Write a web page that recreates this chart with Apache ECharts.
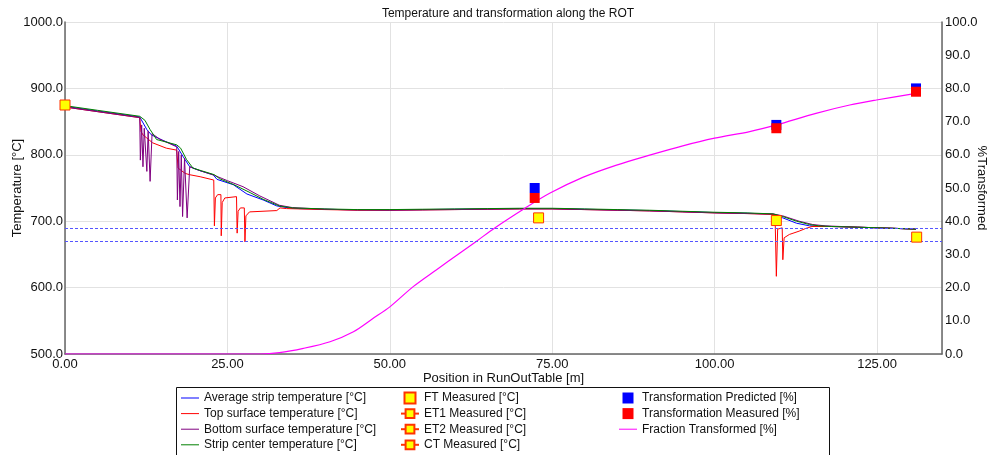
<!DOCTYPE html>
<html>
<head>
<meta charset="utf-8">
<script src="https://cdn.jsdelivr.net/npm/echarts@6/dist/echarts.min.js"></script>
<style>
  html, body { margin: 0; padding: 0; background: #fff; }
  #chart { width: 990px; height: 455px; }
</style>
</head>
<body>
<div id="chart"></div>
<script>
// temperatures along the run out table, [position m, temperature °C]
const avgTemp = [
  [0, 873], [5, 866], [11.5, 857], [12.6, 838], [13.3, 830], [15, 822], [17.2, 813],
  [18.2, 797], [19.2, 782], [20.8, 776], [22.8, 770], [23.4, 763], [25.9, 755], [28, 741],
  [30.5, 732], [32.6, 723], [34.5, 720], [36, 719], [40, 718], [45, 717], [50, 717],
  [55, 717.5], [60, 718], [65, 718.5], [70, 719], [75, 719], [80, 718], [85, 717],
  [90, 716], [95, 714.5], [100, 713], [105, 712], [109, 710.5], [110.5, 705],
  [112.6, 697], [114.6, 693], [118, 692], [122, 691], [127, 689.5], [131, 688]
];
const topTemp = [
  [0, 872], [5, 865], [11.5, 856], [11.7, 835], [12, 830], [12.5, 826], [13.5, 818],
  [15.6, 810], [17.2, 807], [17.4, 780], [18.5, 772], [19.2, 770], [20.8, 767], [22.9, 762],
  [23, 693], [23.15, 735], [23.5, 740], [24, 740], [24.05, 678], [24.2, 728], [24.6, 735],
  [26.4, 737], [26.5, 682], [26.65, 715], [27, 720], [27.6, 720], [27.7, 669], [27.85, 708],
  [28.4, 714], [32.6, 716], [33.1, 720], [34.1, 719], [36, 718.5], [40, 717.5], [45, 716.5],
  [50, 716.5], [55, 717], [60, 717.5], [65, 718], [70, 718.5], [75, 718.5], [80, 717.5],
  [85, 716.5], [90, 715.5], [95, 714], [100, 712.5], [105, 711.5], [109.3, 710],
  [109.5, 617], [109.7, 688], [110, 690], [110.4, 690], [110.5, 642], [110.7, 675],
  [111.5, 680], [113, 685], [114, 689], [115, 692], [118, 692], [122, 691], [127, 689.5], [131, 688]
];
const bottomTemp = [
  [0, 872], [5, 865], [11.5, 856], [11.6, 792], [11.8, 845], [12, 782], [12.2, 840],
  [12.6, 775], [12.8, 836], [13.1, 760], [13.4, 832], [14.5, 824], [17.2, 812], [17.3, 732],
  [17.5, 805], [17.7, 722], [17.9, 800], [18.1, 707], [18.4, 795], [18.8, 705], [19.2, 782],
  [20.5, 777], [23, 769], [25, 761], [27.4, 752], [30, 738], [33, 724], [35, 720.5],
  [40, 718], [45, 717], [50, 716.5], [55, 717], [60, 717.5], [65, 718], [70, 718.5],
  [75, 718.5], [80, 717.5], [85, 716.5], [90, 715.5], [95, 714], [100, 712.5], [105, 711.5],
  [109, 711], [110.5, 708], [113, 700], [115.1, 695], [117, 693], [122, 691], [127, 689.5], [131, 688]
];
const centerTemp = [
  [0, 874], [5, 867], [11.5, 858], [12.3, 852], [13.1, 838], [14.1, 823], [17.2, 815],
  [17.8, 810], [18.7, 793], [19.7, 780], [21, 776], [23, 770], [23.8, 764], [26, 755],
  [28.5, 743], [30.5, 733], [33, 723], [35, 720], [40, 718.5], [45, 717.5], [50, 717.5],
  [55, 718], [60, 718.5], [65, 719], [70, 719.5], [75, 719.5], [80, 718.5], [85, 717.5],
  [90, 716.5], [95, 715], [100, 713.5], [105, 712.5], [109, 711], [110.5, 707], [112.6, 700],
  [114.6, 695], [116, 693], [118, 692], [122, 691], [127, 689.5], [131, 688]
];

// pyrometer readings
const ftMeasured = [[0, 875]];
const et1Measured = [[72.9, 705]];
const et2Measured = [[109.5, 701]];
const ctMeasured = [[131.1, 676]];

// transformation [%]
const transPredicted = [[72.3, 50], [109.5, 69], [131, 80]];
const transMeasured = [[72.3, 47], [109.5, 68], [131, 79]];
const fractionTransformed = [
  [0, 0], [30, 0], [33, 0.4], [36.7, 1.7], [40.8, 3.7], [44.4, 6.7], [47.4, 10.7], [50, 14.2],
  [53.6, 20.3], [57.2, 25.4], [60.8, 30.4], [63.3, 33.9], [66.1, 37.9], [70.8, 43.9],
  [74.6, 48.4], [79.7, 53.2], [84.9, 56.9], [90, 59.9], [95.1, 62.7], [100, 65], [105.4, 67],
  [109.5, 69], [115.6, 72.5], [120.8, 75], [124.9, 76.5], [131, 78.5]
];

// coiling temperature limits
const ctLimits = [690, 670];

const FONT = 'Liberation Sans, Arial, sans-serif';
// legend icons: plain thin line, plain square
const LINE_ICON = 'path://M0,0 L18,0 L18,1 L0,1 Z';
const SQUARE_ICON = 'path://M0,0 L10,0 L10,10 L0,10 Z';

const chart = echarts.init(document.getElementById('chart'));

function tempLine(name, data, color) {
  return {
    name: name,
    type: 'line',
    data: data,
    symbol: 'none',
    color: color,
    lineStyle: { color: color, width: 1 },
    animation: false
  };
}

function pyro(name, data, withLine) {
  return {
    name: name,
    type: withLine ? 'line' : 'scatter',
    data: data,
    symbol: 'rect',
    symbolSize: 10,
    showSymbol: true,
    clip: true,
    itemStyle: { color: '#ffff00', borderColor: '#ff3300', borderWidth: 1, opacity: 1 },
    lineStyle: { color: '#ff3300', width: 1.5 },
    z: 5,
    animation: false
  };
}

function transSquares(name, data, color) {
  return {
    name: name,
    type: 'scatter',
    yAxisIndex: 1,
    data: data,
    symbol: 'rect',
    symbolSize: 10,
    itemStyle: { color: color, opacity: 1 },
    z: 4
  };
}

const legendText = { fontFamily: FONT, fontSize: 12, color: '#111', lineHeight: 14 };
const legendBase = {
  orient: 'vertical',
  top: 391,
  itemWidth: 18,
  itemHeight: 11,
  itemGap: 1.6,
  padding: 0,
  selectedMode: false,
  symbolKeepAspect: true,
  textStyle: legendText
};

const avgSeries = tempLine('Average strip temperature [°C]', avgTemp, '#0000ff');
avgSeries.markLine = {
  silent: true,
  symbol: 'none',
  label: { show: false },
  lineStyle: { color: '#5555ff', type: [3, 2], width: 1 },
  data: ctLimits.map(v => ({ yAxis: v }))
};

chart.setOption({
  backgroundColor: '#fff',
  animation: false,
  title: {
    text: 'Temperature and transformation along the ROT',
    left: 503,
    top: 3,
    textAlign: 'center',
    textStyle: { fontFamily: FONT, fontSize: 12, fontWeight: 'normal', color: '#111' }
  },
  grid: { left: 65, right: 48, top: 22, bottom: 101, outerBoundsMode: 'none' },
  legend: [
    Object.assign({}, legendBase, {
      left: 181,
      data: ['Average strip temperature [°C]', 'Top surface temperature [°C]',
        'Bottom surface temperature [°C]', 'Strip center temperature [°C]']
        .map(n => ({ name: n, icon: LINE_ICON }))
    }),
    Object.assign({}, legendBase, {
      left: 400,
      data: [{ name: 'FT Measured [°C]', icon: SQUARE_ICON },
        'ET1 Measured [°C]', 'ET2 Measured [°C]', 'CT Measured [°C]']
    }),
    Object.assign({}, legendBase, {
      left: 619,
      data: [{ name: 'Transformation Predicted [%]', icon: SQUARE_ICON },
        { name: 'Transformation Measured [%]', icon: SQUARE_ICON },
        { name: 'Fraction Transformed [%]', icon: LINE_ICON }]
    })
  ],
  graphic: [{
    type: 'rect',
    shape: { x: 176.5, y: 387.5, width: 653, height: 80 },
    style: { fill: 'none', stroke: '#111', lineWidth: 1 },
    silent: true
  }],
  xAxis: {
    type: 'value',
    min: 0,
    max: 135,
    interval: 25,
    name: 'Position in RunOutTable [m]',
    nameLocation: 'middle',
    nameGap: 18,
    nameMoveOverlap: false,
    nameTextStyle: { fontFamily: FONT, fontSize: 13, color: '#111' },
    axisLine: { show: true, lineStyle: { color: '#666', width: 1.5 } },
    axisTick: { show: false },
    axisLabel: {
      fontFamily: FONT, fontSize: 13, color: '#111', margin: 4,
      showMaxLabel: false,
      formatter: v => v.toFixed(2)
    },
    splitLine: { show: true, lineStyle: { color: '#e2e2e2', width: 1 } }
  },
  yAxis: [{
    type: 'value',
    min: 500,
    max: 1000,
    interval: 100,
    name: 'Temperature [°C]',
    nameLocation: 'middle',
    nameGap: 41,
    nameMoveOverlap: false,
    nameTextStyle: { fontFamily: FONT, fontSize: 13, color: '#111' },
    axisLine: { show: true, lineStyle: { color: '#666', width: 1.5 } },
    axisTick: { show: false },
    axisLabel: {
      fontFamily: FONT, fontSize: 13, color: '#111', margin: 2,
      formatter: v => v.toFixed(1)
    },
    splitLine: { show: true, lineStyle: { color: '#e2e2e2', width: 1 } }
  }, {
    type: 'value',
    min: 0,
    max: 100,
    interval: 10,
    position: 'right',
    name: '%Transformed',
    nameLocation: 'middle',
    nameRotate: -90,
    nameGap: 33,
    nameMoveOverlap: false,
    nameTextStyle: { fontFamily: FONT, fontSize: 13, color: '#111' },
    axisLine: { show: true, lineStyle: { color: '#666', width: 1.5 } },
    axisTick: { show: false },
    axisLabel: {
      fontFamily: FONT, fontSize: 13, color: '#111', margin: 3,
      formatter: v => v.toFixed(1)
    },
    splitLine: { show: false }
  }],
  series: [
    avgSeries,
    tempLine('Top surface temperature [°C]', topTemp, '#ff0000'),
    tempLine('Bottom surface temperature [°C]', bottomTemp, '#800080'),
    tempLine('Strip center temperature [°C]', centerTemp, '#008000'),
    pyro('FT Measured [°C]', ftMeasured, false),
    pyro('ET1 Measured [°C]', et1Measured, true),
    pyro('ET2 Measured [°C]', et2Measured, true),
    pyro('CT Measured [°C]', ctMeasured, true),
    transSquares('Transformation Predicted [%]', transPredicted, '#0000ff'),
    transSquares('Transformation Measured [%]', transMeasured, '#ff0000'),
    {
      name: 'Fraction Transformed [%]',
      type: 'line',
      yAxisIndex: 1,
      data: fractionTransformed,
      symbol: 'none',
      smooth: 0.3,
      color: '#ff00ff',
      lineStyle: { color: '#ff00ff', width: 1.2 },
      z: 3
    }
  ]
});

window.addEventListener('resize', () => chart.resize());
</script>
</body>
</html>
